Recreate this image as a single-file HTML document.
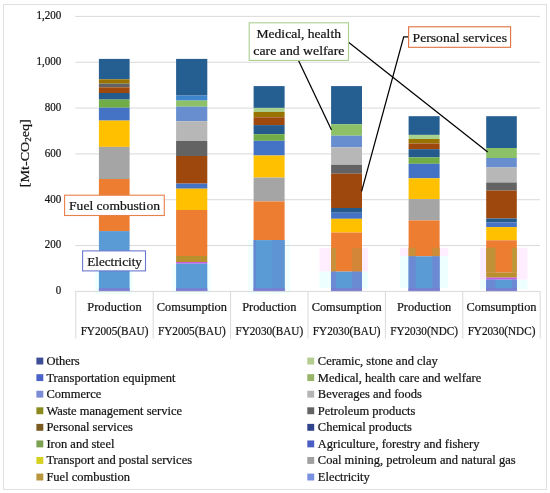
<!DOCTYPE html>
<html><head><meta charset="utf-8"><style>
html,body{margin:0;padding:0;background:#fff;}
body{width:550px;height:493px;overflow:hidden;position:relative;}
#frame{position:absolute;left:3px;top:4px;width:542px;height:484px;border:1px solid #E0E0E0;}
svg{position:absolute;left:0;top:0;}
text{font-family:"Liberation Serif",serif;fill:#141414;stroke:#141414;stroke-width:0.22px;}
svg{will-change:transform;}
</style></head><body>
<div id="frame"></div>
<svg width="550" height="493" viewBox="0 0 550 493">
<rect x="319.5" y="247.9" width="48.4" height="23.7" fill="#FFEEFF"/>
<rect x="319.5" y="271.6" width="48.4" height="16.1" fill="#EDFFFF"/>
<rect x="400.0" y="247.8" width="48.2" height="8.5" fill="#FFEEFF"/>
<rect x="400.0" y="256.3" width="48.2" height="31.9" fill="#EDFFFF"/>
<rect x="479.9" y="247.7" width="47.6" height="32.0" fill="#FFEEFF"/>
<rect x="479.9" y="279.7" width="47.6" height="9.2" fill="#EDFFFF"/>
<rect x="95.5" y="271.4" width="37.0" height="22.6" fill="#EEFFFF"/>
<rect x="172.5" y="264.0" width="38.0" height="30.0" fill="#F2FFFF"/>
<rect x="248.0" y="240.0" width="42.0" height="54.0" fill="#F2FFFF"/>
<line x1="75.3" y1="245.57" x2="540" y2="245.57" stroke="#D9D9D9" stroke-width="1"/>
<line x1="75.3" y1="199.73" x2="540" y2="199.73" stroke="#D9D9D9" stroke-width="1"/>
<line x1="75.3" y1="153.90" x2="540" y2="153.90" stroke="#D9D9D9" stroke-width="1"/>
<line x1="75.3" y1="108.07" x2="540" y2="108.07" stroke="#D9D9D9" stroke-width="1"/>
<line x1="75.3" y1="62.23" x2="540" y2="62.23" stroke="#D9D9D9" stroke-width="1"/>
<line x1="75.3" y1="16.40" x2="540" y2="16.40" stroke="#D9D9D9" stroke-width="1"/>
<rect x="98.9" y="58.9" width="30.7" height="20.4" fill="#255E91"/>
<rect x="98.9" y="79.3" width="30.7" height="4.3" fill="#997300"/>
<rect x="98.9" y="83.6" width="30.7" height="3.7" fill="#636363"/>
<rect x="98.9" y="87.3" width="30.7" height="5.7" fill="#9E480E"/>
<rect x="98.9" y="93.0" width="30.7" height="6.6" fill="#245A8C"/>
<rect x="98.9" y="99.6" width="30.7" height="8.1" fill="#70AD47"/>
<rect x="98.9" y="107.7" width="30.7" height="12.9" fill="#4472C4"/>
<rect x="98.9" y="120.6" width="30.7" height="26.3" fill="#FFC000"/>
<rect x="98.9" y="146.9" width="30.7" height="32.1" fill="#A5A5A5"/>
<rect x="98.9" y="179.0" width="30.7" height="52.1" fill="#ED7D31"/>
<rect x="98.9" y="231.1" width="30.7" height="60.3" fill="#5B9BD5"/>
<rect x="176.1" y="58.9" width="31.2" height="36.7" fill="#255E91"/>
<rect x="176.1" y="95.6" width="31.2" height="5.0" fill="#3D85CC"/>
<rect x="176.1" y="100.6" width="31.2" height="6.1" fill="#8CC168"/>
<rect x="176.1" y="106.7" width="31.2" height="14.5" fill="#698ED0"/>
<rect x="176.1" y="121.2" width="31.2" height="19.8" fill="#B7B7B7"/>
<rect x="176.1" y="141.0" width="31.2" height="15.0" fill="#636363"/>
<rect x="176.1" y="156.0" width="31.2" height="27.6" fill="#9E480E"/>
<rect x="176.1" y="183.6" width="31.2" height="5.1" fill="#4472C4"/>
<rect x="176.1" y="188.7" width="31.2" height="21.3" fill="#FFC000"/>
<rect x="176.1" y="210.0" width="31.2" height="46.0" fill="#ED7D31"/>
<rect x="176.1" y="256.0" width="31.2" height="6.0" fill="#B8902E"/>
<rect x="176.1" y="262.0" width="31.2" height="1.7" fill="#C060E0"/>
<rect x="176.1" y="263.7" width="31.2" height="27.7" fill="#5B9BD5"/>
<rect x="253.6" y="86.1" width="31.0" height="21.8" fill="#255E91"/>
<rect x="253.6" y="107.9" width="31.0" height="4.0" fill="#A9D18E"/>
<rect x="253.6" y="111.9" width="31.0" height="5.4" fill="#997300"/>
<rect x="253.6" y="117.3" width="31.0" height="7.8" fill="#9E480E"/>
<rect x="253.6" y="125.1" width="31.0" height="9.1" fill="#245A8C"/>
<rect x="253.6" y="134.2" width="31.0" height="6.6" fill="#70AD47"/>
<rect x="253.6" y="140.8" width="31.0" height="14.7" fill="#4472C4"/>
<rect x="253.6" y="155.5" width="31.0" height="22.1" fill="#FFC000"/>
<rect x="253.6" y="177.6" width="31.0" height="23.8" fill="#A5A5A5"/>
<rect x="253.6" y="201.4" width="31.0" height="38.7" fill="#ED7D31"/>
<rect x="253.6" y="240.1" width="31.0" height="51.3" fill="#5B9BD5"/>
<rect x="331.1" y="86.1" width="30.9" height="38.1" fill="#255E91"/>
<rect x="331.1" y="124.2" width="30.9" height="11.5" fill="#8CC168"/>
<rect x="331.1" y="135.7" width="30.9" height="11.7" fill="#698ED0"/>
<rect x="331.1" y="147.4" width="30.9" height="17.4" fill="#B7B7B7"/>
<rect x="331.1" y="164.8" width="30.9" height="8.9" fill="#636363"/>
<rect x="331.1" y="173.7" width="30.9" height="34.3" fill="#9E480E"/>
<rect x="331.1" y="208.0" width="30.9" height="4.7" fill="#245A8C"/>
<rect x="331.1" y="212.7" width="30.9" height="6.1" fill="#4472C4"/>
<rect x="331.1" y="218.8" width="30.9" height="13.7" fill="#FFC000"/>
<rect x="331.1" y="232.5" width="30.9" height="39.1" fill="#ED7D31"/>
<rect x="331.1" y="271.6" width="30.9" height="19.8" fill="#5B9BD5"/>
<rect x="408.6" y="116.2" width="31.0" height="18.7" fill="#255E91"/>
<rect x="408.6" y="134.9" width="31.0" height="4.1" fill="#A9D18E"/>
<rect x="408.6" y="139.0" width="31.0" height="4.5" fill="#997300"/>
<rect x="408.6" y="143.5" width="31.0" height="5.7" fill="#9E480E"/>
<rect x="408.6" y="149.2" width="31.0" height="8.2" fill="#245A8C"/>
<rect x="408.6" y="157.4" width="31.0" height="6.4" fill="#70AD47"/>
<rect x="408.6" y="163.8" width="31.0" height="14.5" fill="#4472C4"/>
<rect x="408.6" y="178.3" width="31.0" height="20.8" fill="#FFC000"/>
<rect x="408.6" y="199.1" width="31.0" height="21.3" fill="#A5A5A5"/>
<rect x="408.6" y="220.4" width="31.0" height="35.9" fill="#ED7D31"/>
<rect x="408.6" y="256.3" width="31.0" height="35.1" fill="#5B9BD5"/>
<rect x="486.2" y="116.2" width="30.6" height="31.8" fill="#255E91"/>
<rect x="486.2" y="148.0" width="30.6" height="10.0" fill="#8CC168"/>
<rect x="486.2" y="158.0" width="30.6" height="9.5" fill="#698ED0"/>
<rect x="486.2" y="167.5" width="30.6" height="15.0" fill="#B7B7B7"/>
<rect x="486.2" y="182.5" width="30.6" height="8.1" fill="#636363"/>
<rect x="486.2" y="190.6" width="30.6" height="27.9" fill="#9E480E"/>
<rect x="486.2" y="218.5" width="30.6" height="4.0" fill="#245A8C"/>
<rect x="486.2" y="222.5" width="30.6" height="4.6" fill="#4472C4"/>
<rect x="486.2" y="227.1" width="30.6" height="13.2" fill="#FFC000"/>
<rect x="486.2" y="240.3" width="30.6" height="32.3" fill="#ED7D31"/>
<rect x="486.2" y="272.6" width="30.6" height="5.0" fill="#B8902E"/>
<rect x="486.2" y="277.6" width="30.6" height="2.1" fill="#C060E0"/>
<rect x="486.2" y="279.7" width="30.6" height="11.7" fill="#5B9BD5"/>
<rect x="331.1" y="247.9" width="4.9" height="23.7" fill="#C8903A"/>
<rect x="352.0" y="247.9" width="10.0" height="23.7" fill="#D48638"/>
<rect x="331.1" y="271.6" width="4.9" height="19.8" fill="#6C8AD4"/>
<rect x="352.0" y="271.6" width="10.0" height="19.8" fill="#6A8AD2"/>
<rect x="408.6" y="247.8" width="7.0" height="8.5" fill="#C8903A"/>
<rect x="432.3" y="247.8" width="7.3" height="8.5" fill="#CC8C38"/>
<rect x="408.6" y="256.3" width="7.0" height="35.1" fill="#6C8AD4"/>
<rect x="432.3" y="256.3" width="7.3" height="35.1" fill="#6C8AD4"/>
<rect x="486.2" y="247.7" width="9.3" height="24.9" fill="#C09238"/>
<rect x="511.9" y="247.7" width="4.9" height="24.9" fill="#C0963A"/>
<rect x="486.2" y="279.7" width="9.3" height="11.7" fill="#6C8AD4"/>
<rect x="511.9" y="279.7" width="4.9" height="11.7" fill="#6C8AD4"/>
<rect x="253.6" y="240.1" width="2.4" height="51.3" fill="#6488D2"/>
<rect x="272.0" y="240.1" width="12.6" height="51.3" fill="#5E94D4"/>
<rect x="98.9" y="288.3" width="30.7" height="3.1" fill="#7A7CD2"/>
<rect x="176.1" y="288.3" width="31.2" height="3.1" fill="#7A7CD2"/>
<rect x="253.6" y="288.3" width="31.0" height="3.1" fill="#7A7CD2"/>
<rect x="331.1" y="288.3" width="30.9" height="3.1" fill="#7A7CD2"/>
<rect x="408.6" y="288.3" width="31.0" height="3.1" fill="#7A7CD2"/>
<rect x="486.2" y="288.3" width="30.6" height="3.1" fill="#7A7CD2"/>
<line x1="75.3" y1="291.4" x2="540.3" y2="291.4" stroke="#D9D9D9" stroke-width="1"/>
<line x1="75.80" y1="291.4" x2="75.80" y2="338.6" stroke="#D9D9D9" stroke-width="1"/>
<line x1="153.20" y1="291.4" x2="153.20" y2="338.6" stroke="#D9D9D9" stroke-width="1"/>
<line x1="230.60" y1="291.4" x2="230.60" y2="338.6" stroke="#D9D9D9" stroke-width="1"/>
<line x1="308.00" y1="291.4" x2="308.00" y2="338.6" stroke="#D9D9D9" stroke-width="1"/>
<line x1="385.40" y1="291.4" x2="385.40" y2="338.6" stroke="#D9D9D9" stroke-width="1"/>
<line x1="462.80" y1="291.4" x2="462.80" y2="338.6" stroke="#D9D9D9" stroke-width="1"/>
<line x1="540.20" y1="291.4" x2="540.20" y2="338.6" stroke="#D9D9D9" stroke-width="1"/>
<text x="61.2" y="294.30" text-anchor="end" font-size="11.6" textLength="5.51" lengthAdjust="spacingAndGlyphs">0</text>
<text x="61.2" y="248.47" text-anchor="end" font-size="11.6" textLength="16.53" lengthAdjust="spacingAndGlyphs">200</text>
<text x="61.2" y="202.63" text-anchor="end" font-size="11.6" textLength="16.53" lengthAdjust="spacingAndGlyphs">400</text>
<text x="61.2" y="156.80" text-anchor="end" font-size="11.6" textLength="16.53" lengthAdjust="spacingAndGlyphs">600</text>
<text x="61.2" y="110.97" text-anchor="end" font-size="11.6" textLength="16.53" lengthAdjust="spacingAndGlyphs">800</text>
<text x="61.2" y="65.13" text-anchor="end" font-size="11.6" textLength="24.79" lengthAdjust="spacingAndGlyphs">1,000</text>
<text x="61.2" y="19.30" text-anchor="end" font-size="11.6" textLength="24.79" lengthAdjust="spacingAndGlyphs">1,200</text>
<text transform="translate(114.50,310.80) scale(1.0500,1)" text-anchor="middle" font-size="11.8">Production</text>
<text transform="translate(114.50,334.80) scale(0.9330,1)" text-anchor="middle" font-size="12.0">FY2005(BAU)</text>
<text transform="translate(191.90,310.80) scale(1.0500,1)" text-anchor="middle" font-size="11.8">Comsumption</text>
<text transform="translate(191.90,334.80) scale(0.9330,1)" text-anchor="middle" font-size="12.0">FY2005(BAU)</text>
<text transform="translate(269.30,310.80) scale(1.0500,1)" text-anchor="middle" font-size="11.8">Production</text>
<text transform="translate(269.30,334.80) scale(0.9330,1)" text-anchor="middle" font-size="12.0">FY2030(BAU)</text>
<text transform="translate(346.70,310.80) scale(1.0500,1)" text-anchor="middle" font-size="11.8">Comsumption</text>
<text transform="translate(346.70,334.80) scale(0.9330,1)" text-anchor="middle" font-size="12.0">FY2030(BAU)</text>
<text transform="translate(424.10,310.80) scale(1.0500,1)" text-anchor="middle" font-size="11.8">Production</text>
<text transform="translate(424.10,334.80) scale(0.9330,1)" text-anchor="middle" font-size="12.0">FY2030(NDC)</text>
<text transform="translate(501.50,310.80) scale(1.0500,1)" text-anchor="middle" font-size="11.8">Comsumption</text>
<text transform="translate(501.50,334.80) scale(0.9330,1)" text-anchor="middle" font-size="12.0">FY2030(NDC)</text>
<text transform="translate(29.1,153.2) rotate(-90) scale(1.11,1)" text-anchor="middle" font-size="12.7">[Mt-CO<tspan font-size="8.2" dy="2.0">2</tspan><tspan dy="-2.0">eq]</tspan></text>
<line x1="298.5" y1="60.4" x2="331.5" y2="130" stroke="#000" stroke-width="1.25"/>
<line x1="348.5" y1="42.3" x2="487.7" y2="151.9" stroke="#000" stroke-width="1.25"/>
<polyline points="408.4,36.9 403.7,36.9 361.6,191.4" fill="none" stroke="#000" stroke-width="1.25"/>
<rect x="249.2" y="22.8" width="99.3" height="37.6" fill="#fff" stroke="#A9D18E" stroke-width="1.1"/>
<text transform="translate(298.70,37.90) scale(1.0794,1)" text-anchor="middle" font-size="12.6">Medical, health</text>
<text transform="translate(298.90,54.70) scale(1.0952,1)" text-anchor="middle" font-size="12.6">care and welfare</text>
<rect x="408.6" y="26.8" width="102.0" height="20.5" fill="#fff" stroke="#E07040" stroke-width="1.1"/>
<text transform="translate(459.80,41.50) scale(1.0849,1)" text-anchor="middle" font-size="12.6">Personal services</text>
<rect x="64.6" y="195.2" width="99.7" height="20.3" fill="#fff" stroke="#E8804A" stroke-width="1.1"/>
<text transform="translate(114.50,209.90) scale(1.0794,1)" text-anchor="middle" font-size="12.6">Fuel combustion</text>
<rect x="82.6" y="250.9" width="62.9" height="20.0" fill="#fff" stroke="#6A78D0" stroke-width="1.1"/>
<text transform="translate(114.60,265.80) scale(1.0397,1)" text-anchor="middle" font-size="12.6">Electricity</text>
<rect x="36.4" y="357.60" width="6.9" height="6.9" fill="#3E4E96"/>
<text transform="translate(46.40,365.00) scale(1.0331,1)" text-anchor="start" font-size="12.1">Others</text>
<rect x="307.3" y="357.60" width="6.9" height="6.9" fill="#B4CC90"/>
<text transform="translate(317.80,365.00) scale(1.0331,1)" text-anchor="start" font-size="12.1">Ceramic, stone and clay</text>
<rect x="36.4" y="374.17" width="6.9" height="6.9" fill="#4B63C8"/>
<text transform="translate(46.40,381.57) scale(1.0331,1)" text-anchor="start" font-size="12.1">Transportation equipment</text>
<rect x="307.3" y="374.17" width="6.9" height="6.9" fill="#98B468"/>
<text transform="translate(317.80,381.57) scale(1.0331,1)" text-anchor="start" font-size="12.1">Medical, health care and welfare</text>
<rect x="36.4" y="390.74" width="6.9" height="6.9" fill="#7B8CD6"/>
<text transform="translate(46.40,398.14) scale(1.0331,1)" text-anchor="start" font-size="12.1">Commerce</text>
<rect x="307.3" y="390.74" width="6.9" height="6.9" fill="#B4B4B4"/>
<text transform="translate(317.80,398.14) scale(1.0331,1)" text-anchor="start" font-size="12.1">Beverages and foods</text>
<rect x="36.4" y="407.31" width="6.9" height="6.9" fill="#8A8A1E"/>
<text transform="translate(46.40,414.71) scale(1.0331,1)" text-anchor="start" font-size="12.1">Waste management service</text>
<rect x="307.3" y="407.31" width="6.9" height="6.9" fill="#646464"/>
<text transform="translate(317.80,414.71) scale(1.0331,1)" text-anchor="start" font-size="12.1">Petroleum products</text>
<rect x="36.4" y="423.88" width="6.9" height="6.9" fill="#7A5A20"/>
<text transform="translate(46.40,431.28) scale(1.0331,1)" text-anchor="start" font-size="12.1">Personal services</text>
<rect x="307.3" y="423.88" width="6.9" height="6.9" fill="#30448E"/>
<text transform="translate(317.80,431.28) scale(1.0331,1)" text-anchor="start" font-size="12.1">Chemical products</text>
<rect x="36.4" y="440.45" width="6.9" height="6.9" fill="#7AA050"/>
<text transform="translate(46.40,447.85) scale(1.0331,1)" text-anchor="start" font-size="12.1">Iron and steel</text>
<rect x="307.3" y="440.45" width="6.9" height="6.9" fill="#4B5EC4"/>
<text transform="translate(317.80,447.85) scale(1.0331,1)" text-anchor="start" font-size="12.1">Agriculture, forestry and fishery</text>
<rect x="36.4" y="457.02" width="6.9" height="6.9" fill="#D4D020"/>
<text transform="translate(46.40,464.42) scale(1.0331,1)" text-anchor="start" font-size="12.1">Transport and postal services</text>
<rect x="307.3" y="457.02" width="6.9" height="6.9" fill="#A0A0A0"/>
<text transform="translate(317.80,464.42) scale(1.0331,1)" text-anchor="start" font-size="12.1">Coal mining, petroleum and natural gas</text>
<rect x="36.4" y="473.59" width="6.9" height="6.9" fill="#B8963E"/>
<text transform="translate(46.40,480.99) scale(1.0331,1)" text-anchor="start" font-size="12.1">Fuel combustion</text>
<rect x="307.3" y="473.59" width="6.9" height="6.9" fill="#7A90E0"/>
<text transform="translate(317.80,480.99) scale(1.0331,1)" text-anchor="start" font-size="12.1">Electricity</text>
</svg>
</body></html>
